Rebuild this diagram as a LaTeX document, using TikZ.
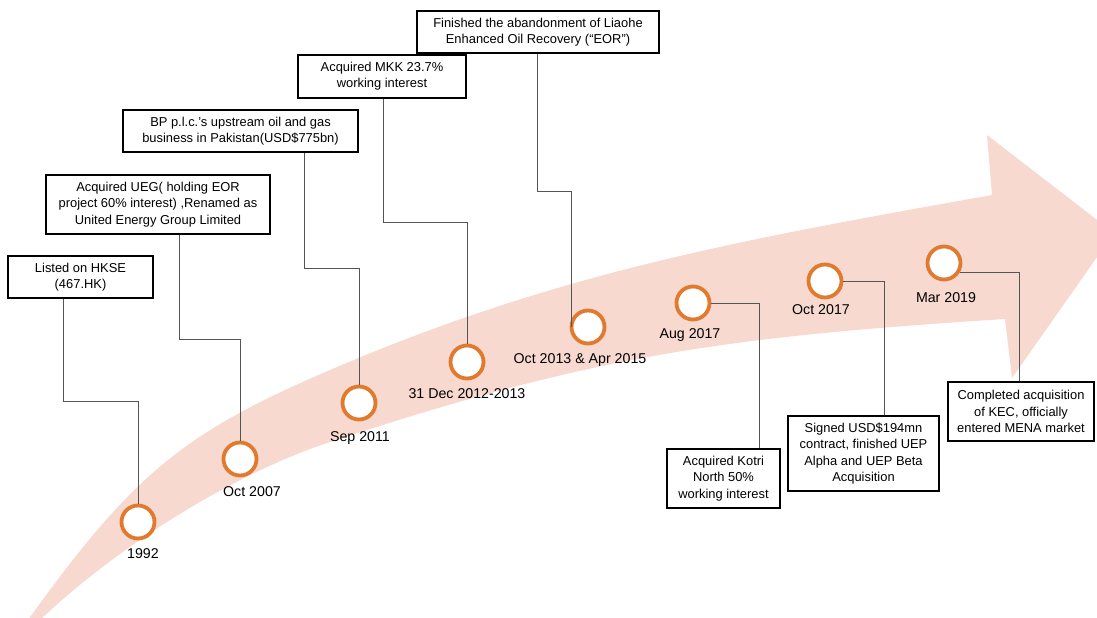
\documentclass[tikz,border=0pt]{standalone}
\usepackage{fontspec}
\setmainfont{Liberation Sans}
\definecolor{bandpink}{HTML}{F8D9CF}
\definecolor{ringorange}{HTML}{E07A2F}
\definecolor{conngray}{HTML}{555555}
\begin{document}
\begin{tikzpicture}[x=1pt,y=-1pt,
  evbox/.style={draw=black, line width=1.7pt, fill=white, align=center, inner sep=0pt,
    font=\fontsize{12.9}{16.3}\selectfont},
  ring/.style={circle, draw=ringorange, line width=3.8pt, fill=white, minimum size=33pt, inner sep=0pt},
  datelbl/.style={font=\fontsize{14.2}{17}\selectfont, inner sep=0pt},
  conn/.style={draw=conngray, line width=1pt}]
\useasboundingbox (0,0) rectangle (1097,618);
\clip (0,0) rectangle (1097,618);
% curved arrow band
\fill[bandpink] (28,620) .. controls (133,474) and (183,433) .. (330,370)
  .. controls (559.75,271.25) and (746,239) .. (992,195)
  -- (987,135) -- (1114,233) -- (1012,378) -- (1005,319)
  .. controls (726.4,336.9) and (596,354.4) .. (330,442)
  .. controls (235,473.3) and (119.75,544.2) .. (40,620) -- cycle;
% event circles
\node[ring] (c1) at (138,522) {};
\node[ring] (c2) at (240,459) {};
\node[ring] (c3) at (359,403) {};
\node[ring] (c4) at (467,362) {};
\node[ring] (c5) at (588,327) {};
\node[ring] (c6) at (693,303) {};
\node[ring] (c7) at (825,281) {};
\node[ring] (c8) at (944,263) {};
% dates
\node[datelbl] (d1) at (143,554) {1992};
\node[datelbl] (d2) at (252,492) {Oct 2007};
\node[datelbl] (d3) at (360,438) {Sep 2011};
\node[datelbl] (d4) at (467,394) {31 Dec 2012-2013};
\node[datelbl] (d5) at (580,360) {Oct 2013 \& Apr 2015};
\node[datelbl] (d6) at (690,335) {Aug 2017};
\node[datelbl] (d7) at (821,310) {Oct 2017};
\node[datelbl] (d8) at (946,298) {Mar 2019};
% boxes
\node[evbox, minimum width=145pt, minimum height=42pt] (e1) at (80.5,277) {Listed on HKSE\\(467.HK)};
\node[evbox, minimum width=224pt, minimum height=59pt] (e2) at (158,204.5) {Acquired UEG( holding EOR\\project 60\% interest) ,Renamed as\\United Energy Group Limited};
\node[evbox, minimum width=235pt, minimum height=42pt] (e3) at (240.5,131) {BP p.l.c.'s upstream oil and gas\\business in Pakistan(USD\$775bn)};
\node[evbox, minimum width=168pt, minimum height=43pt] (e4) at (382,76.5) {Acquired MKK 23.7\%\\working interest};
\node[evbox, minimum width=242pt, minimum height=42pt] (e5) at (538,32) {Finished the abandonment of Liaohe\\Enhanced Oil Recovery (``EOR'')};
\node[evbox, minimum width=113pt, minimum height=59pt] (e6) at (723.5,478.5) {Acquired Kotri\\North 50\%\\working interest};
\node[evbox, minimum width=151pt, minimum height=75pt] (e7) at (863.5,453.5) {Signed USD\$194mn\\contract, finished UEP\\Alpha and UEP Beta\\Acquisition};
\node[evbox, minimum width=146pt, minimum height=59pt] (e8) at (1021,411.5) {Completed acquisition\\of KEC, officially\\entered MENA market};
% bend coordinates
\coordinate (k1) at (63,401);
\coordinate (k2) at (179,339);
\coordinate (k3) at (304,268);
\coordinate (k4) at (383,222);
\coordinate (k5) at (537,191);
\coordinate (k6) at (759,303);
\coordinate (k7) at (884,281);
\coordinate (k8) at (1019,272);
% connectors
\draw[conn] (e1.south -| k1) -- (k1) -| (c1.north);
\draw[conn] (e2.south -| k2) -- (k2) -| (c2.north);
\draw[conn] (e3.south -| k3) -- (k3) -| (c3.north);
\draw[conn] (e4.south -| k4) -- (k4) -| (c4.north);
\draw[conn] (e5.south -| k5) -- (k5) -| ([xshift=2pt]c5.west);
\draw[conn] (c6.east) -| (e6.north -| k6);
\draw[conn] (c7.east) -| (e7.north -| k7);
\draw[conn] (c8.-30) -| (e8.north -| k8);
\end{tikzpicture}
\end{document}
